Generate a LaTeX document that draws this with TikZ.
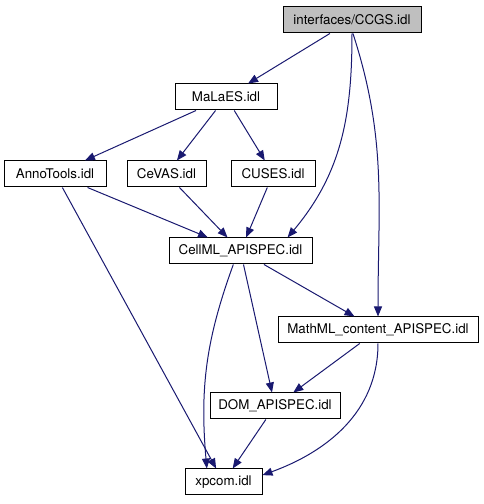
\documentclass[tikz,border=0pt]{standalone}
\usepackage{fontspec}
\setmainfont{TeX Gyre Heros}
\usetikzlibrary{arrows.meta}
\definecolor{edgeblue}{RGB}{25,25,112}
\definecolor{rootgray}{RGB}{191,191,191}
\tikzset{
  idl/.style={draw=black,rectangle,line width=0.75pt,minimum height=19.5pt,inner sep=0pt,font=\fontsize{10}{12}\selectfont,fill=white},
  rootidl/.style={idl,fill=rootgray},
  dep/.style={-{Triangle[length=7.5pt,width=6pt]},edgeblue,line width=0.75pt}
}
\begin{document}
\begin{tikzpicture}[x=0.75pt,y=0.75pt]
  \useasboundingbox (0,0) rectangle (484,504);
  % Files
  \node[rootidl, minimum width=103.5pt] (ccgs) at (352,484) {interfaces/CCGS.idl};
  \node[idl, minimum width=76.5pt] (malaes) at (226,407) {MaLaES.idl};
  \node[idl, minimum width=76.5pt] (annotools) at (55,330) {AnnoTools.idl};
  \node[idl, minimum width=59.25pt] (cevas) at (166.5,330) {CeVAS.idl};
  \node[idl, minimum width=63pt] (cuses) at (273,330) {CUSES.idl};
  \node[idl, minimum width=107.25pt] (cellml) at (240.5,253) {CellML\_APISPEC.idl};
  \node[idl, minimum width=150pt] (mathml) at (378,174) {MathML\_content\_APISPEC.idl};
  \node[idl, minimum width=97.5pt] (dom) at (275,98) {DOM\_APISPEC.idl};
  \node[idl, minimum width=57.75pt] (xpcom) at (223.5,22) {xpcom.idl};

  % Includes
  \draw[dep] (ccgs) -- (malaes);
  \draw[dep] (ccgs.south) to[out=-90,in=50] (cellml.16);
  \draw[dep] (ccgs.-86) to[out=-72,in=90] (mathml.north);
  \foreach \t in {annotools,cevas,cuses}
    \draw[dep] (malaes) -- (\t);
  \foreach \s in {annotools,cevas,cuses}
    \draw[dep] (\s) -- (cellml);
  \draw[dep] (annotools) -- (xpcom);
  \draw[dep] (cellml.-118) to[out=-110,in=95] (xpcom.141);
  \draw[dep] (cellml) -- (dom);
  \draw[dep] (cellml) -- (mathml);
  \draw[dep] (mathml) -- (dom);
  \draw[dep] (mathml.south) to[out=-90,in=20] (xpcom.10);
  \draw[dep] (dom) -- (xpcom);
\end{tikzpicture}
\end{document}
